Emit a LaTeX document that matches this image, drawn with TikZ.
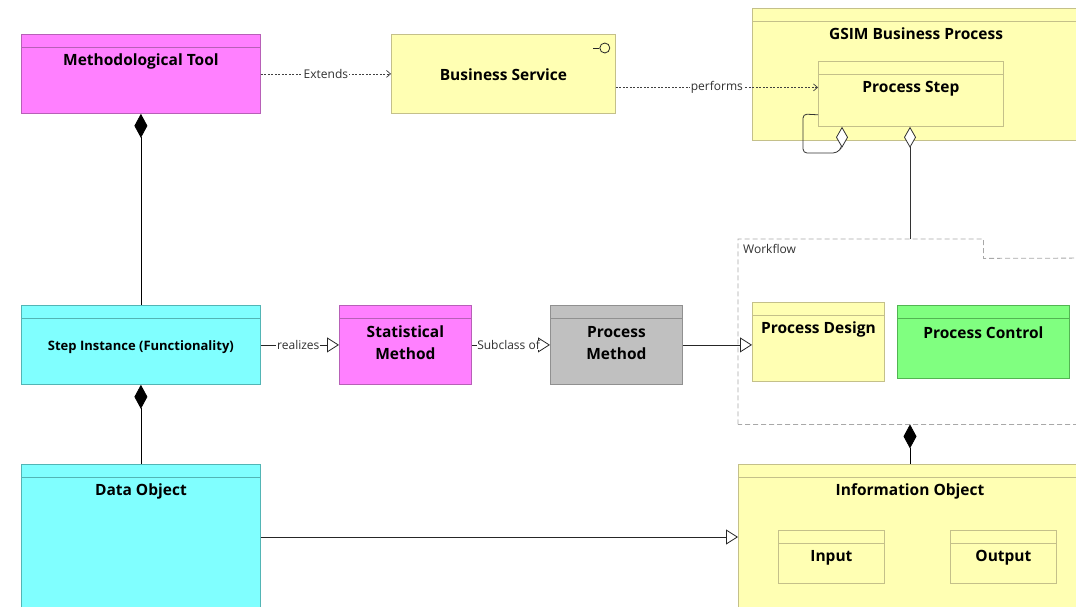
\documentclass[tikz,border=0pt]{standalone}
\usepackage{fontspec}
\setmainfont{Open Sans}
\usetikzlibrary{arrows.meta}

\definecolor{magfill}{HTML}{FF80FF}\definecolor{magline}{HTML}{B760B7}
\definecolor{yelfill}{HTML}{FFFFB3}\definecolor{yelline}{HTML}{C4C08A}
\definecolor{cyafill}{HTML}{80FFFF}\definecolor{cyaline}{HTML}{52B5B5}
\definecolor{gryfill}{HTML}{C0C0C0}\definecolor{gryline}{HTML}{909090}
\definecolor{grnfill}{HTML}{80FF80}\definecolor{grnline}{HTML}{52B552}
\definecolor{depline}{HTML}{404040}
\definecolor{pkgline}{HTML}{A8A8A8}
\definecolor{lbltext}{HTML}{303030}

\tikzset{
  x=1pt, y=-1pt,
  % class box with a thin name compartment on top
  cls/.style={rectangle, draw=#1line, fill=#1fill, line width=0.8pt,
    inner sep=0pt, anchor=north west,
    path picture={\draw[#1line, line width=0.8pt]
      ([yshift=-13pt]path picture bounding box.north west) --
      ([yshift=-13pt]path picture bounding box.north east);}},
  % plain box without compartment
  plainbox/.style={rectangle, draw=#1line, fill=#1fill, line width=0.8pt,
    inner sep=0pt, anchor=north west},
  ttl/.style={font=\fontsize{15.5}{22}\selectfont\bfseries, align=center, inner sep=0pt},
  ttlsmall/.style={font=\fontsize{13}{15}\selectfont\bfseries, align=center, inner sep=0pt},
  lbl/.style={font=\fontsize{12}{13}\selectfont, text=lbltext, fill=white, inner sep=1pt},
  dep/.style={draw=depline, line width=0.7pt, dash pattern=on 2pt off 1.5pt,
    -{Straight Barb[length=4pt,width=7pt]}},
  gen/.style={draw=black!85, line width=0.8pt, -{Triangle[length=12pt,width=15pt,fill=white]}},
  comp/.style={draw=black, line width=0.8pt, {Diamond[length=24pt,width=13pt]}-},
  agg/.style={draw=black!80, line width=0.8pt, -{Diamond[length=21pt,width=12pt,fill=white]}},
}

\begin{document}
\begin{tikzpicture}
\useasboundingbox (0,0) rectangle (1076,606);
\clip (0,0) rectangle (1076,606);

% --- top row ---
\node[cls=mag, minimum width=239pt, minimum height=79pt] (mt) at (21,34) {};
\node[ttl] (mt-t) at ([yshift=-27.5pt]mt.north) {Methodological Tool};

\node[plainbox=yel, minimum width=224pt, minimum height=79pt] (bs) at (391,34) {};
\node[ttl] (bs-t) at ([yshift=-1pt]bs.center) {Business Service};
\node[circle, draw=black!85, line width=0.8pt, minimum size=10pt, inner sep=0pt]
  (bs-if) at ([xshift=-11pt,yshift=-14pt]bs.north east) {};
\draw[black!85, line width=0.8pt] (bs-if.west) -- ++(-6,0);

\node[cls=yel, minimum width=340pt, minimum height=132pt] (gsim) at (752,8) {};
\node[ttl] (gsim-t) at ([yshift=-26pt]gsim.north -| 916,0) {GSIM Business Process};

\node[cls=yel, minimum width=185pt, minimum height=65pt] (ps) at (818,61) {};
\node[ttl] (ps-t) at ([yshift=-27.5pt]ps.north) {Process Step};

% --- middle row ---
\node[cls=cya, minimum width=239pt, minimum height=79pt] (si) at (21,305) {};
\node[ttlsmall] (si-t) at ([yshift=-2.5pt]si.center) {Step Instance (Functionality)};

\node[cls=mag, minimum width=132pt, minimum height=79pt] (sm) at (339,305) {};
\node[ttl] (sm-t) at ([yshift=-38pt]sm.north) {Statistical\\Method};

\node[cls=gry, minimum width=132pt, minimum height=79pt] (pm) at (550,305) {};
\node[ttl] (pm-t) at ([yshift=-38pt]pm.north) {Process\\Method};

% workflow package
\node[rectangle, inner sep=0pt, anchor=north west, minimum width=245pt, minimum height=19pt]
  (wftab) at (738,239) {};
\node[rectangle, inner sep=0pt, anchor=north west, minimum width=360pt, minimum height=166pt]
  (wf) at (738,258) {};
\draw[pkgline, line width=0.8pt, dash pattern=on 5pt off 3pt]
  (wf.south west) -- (wftab.north west) -- (wftab.north east) -- (wftab.south east)
  -- (wf.north east) -- (wf.south east) -- cycle;
\node[font=\fontsize{12}{13}\selectfont, text=lbltext, anchor=west, inner sep=0pt]
  (wf-t) at ([xshift=5pt]wftab.west) {Workflow};

\node[cls=yel, minimum width=132pt, minimum height=79pt] (pd) at (752,302) {};
\node[ttl] (pd-t) at ([yshift=-27.5pt]pd.north) {Process Design};

\node[cls=grn, minimum width=172pt, minimum height=73pt] (pc) at (897,305) {};
\node[ttl] (pc-t) at ([yshift=-27.5pt]pc.north) {Process Control};

% --- bottom row ---
\node[cls=cya, minimum width=239pt, minimum height=160pt] (do) at (21,464) {};
\node[ttl] (do-t) at ([yshift=-27.5pt]do.north) {Data Object};

\node[cls=yel, minimum width=360pt, minimum height=160pt] (io) at (738,464) {};
\node[ttl] (io-t) at ([yshift=-27.5pt]io.north -| 910,0) {Information Object};

\node[cls=yel, minimum width=106pt, minimum height=53pt] (in) at (778,530) {};
\node[ttl] (in-t) at ([yshift=-27.5pt]in.north) {Input};
\node[cls=yel, minimum width=106pt, minimum height=53pt] (out) at (950,530) {};
\node[ttl] (out-t) at ([yshift=-27.5pt]out.north) {Output};

% --- connectors ---
\draw[dep] (mt) -- (bs) node[lbl, pos=0.5] {Extends};
\coordinate (ps-in) at ([yshift=6.5pt]ps.west);
\draw[dep] (bs.east |- ps-in) -- (ps-in) node[lbl, pos=0.5] {performs};

\draw[comp] (mt) -- (si);
\draw[comp] (si) -- (do);

\draw[gen] (si) -- (sm) node[lbl, pos=0.48] {realizes};
\draw[gen] (sm) -- (pm) node[lbl, pos=0.47, inner sep=0.3pt] {Subclass of};
\draw[gen] (pm.east) -- (pd.west |- pm.east);
\draw[gen] ([yshift=-73pt]do.north east) -- ([yshift=-73pt]io.north west);

\coordinate (col-wf) at (910,0);
\draw[agg] (wftab.north -| col-wf) -- (ps.south -| col-wf);
\draw[comp] (wf.south -| col-wf) -- (io.north -| col-wf);

\coordinate (col-loop) at (842,0);
\draw[agg, rounded corners=4pt] ([yshift=12pt]ps.south west) -- (803,114) -- (803,153)
  -- (837,153) -- (842,147) -- (ps.south -| col-loop);
\end{tikzpicture}
\end{document}
